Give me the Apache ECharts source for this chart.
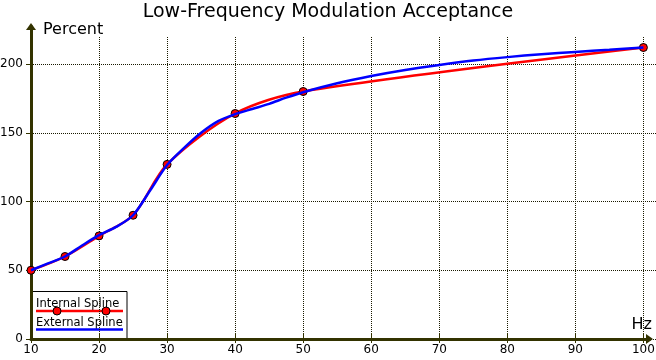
<!DOCTYPE html>
<html>
<head>
<meta charset="utf-8">
<script src="https://cdn.jsdelivr.net/npm/echarts@6/dist/echarts.min.js"></script>
<style>
html,body{margin:0;padding:0;background:#ffffff;}
#chart{width:656px;height:360px;}
</style>
</head>
<body>
<div id="chart"></div>
<script>
// ---- data ----
const titleText = 'Low-Frequency Modulation Acceptance';
const seriesNames = ['Internal Spline', 'External Spline'];
const xAxisName = 'Hz';
const yAxisName = 'Percent';
// control points (marked on the internal spline)
const hz = [10, 15, 20, 25, 30, 40, 50, 100];
const percent = [50, 60, 75, 90, 127, 164, 180, 212];
// external spline
const externalHz = [10, 12.5, 15, 17.5, 20, 22.5, 25, 27.5, 30, 32.5, 35, 37.5, 40, 42.5, 45, 47.5, 50, 55, 60, 65, 70, 75, 80, 85, 90, 95, 100];
const externalPercent = [50, 55, 60, 68, 75.5, 81.5, 90, 108, 126.5, 139, 150, 158.5, 163.5, 167.3, 171, 175.5, 179.5, 186, 191.3, 195.7, 199.3, 202.5, 205, 207.1, 208.8, 210.4, 212];
const xTicks = [10, 20, 30, 40, 50, 60, 70, 80, 90, 100];
const yTicks = [0, 50, 100, 150, 200];

const FONT = 'DejaVu Sans';
const axisColor = '#333300';
const gridColor = '#1a1a00';

const internalData = hz.map((x, i) => [x, percent[i]]);
const externalData = externalHz.map((x, i) => [x, externalPercent[i]]);

const chart = echarts.init(document.getElementById('chart'), null, {renderer: 'canvas'});

const option = {
  animation: false,
  backgroundColor: '#ffffff',
  title: {
    text: titleText,
    left: 'center',
    top: 3,
    padding: 0,
    textStyle: {fontFamily: FONT, fontSize: 19, fontWeight: 'normal', color: '#000000'}
  },
  grid: [
    {left: 31, right: -1, top: 64, bottom: 21, containLabel: false, outerBoundsMode: 'none'},
    {left: 31, right: -1, top: 37, bottom: 21, containLabel: false, outerBoundsMode: 'none'},
    {left: 31, right: 6.5, top: 26.5, bottom: 21, containLabel: false, outerBoundsMode: 'none'}
  ],
  xAxis: [
    {
      type: 'value', gridIndex: 0, min: 10, max: 102, interval: 10,
      axisLine: {show: false},
      axisTick: {show: true, inside: false, length: 4, lineStyle: {color: axisColor, width: 1}},
      axisLabel: {
        show: true, margin: 5, color: '#000000', fontFamily: FONT, fontSize: 12,
        showMaxLabel: false,
        formatter: v => (xTicks.indexOf(v) >= 0 ? String(v) : '')
      },
      splitLine: {show: false}
    },
    {
      type: 'value', gridIndex: 1, min: 10, max: 102, interval: 10,
      axisLine: {show: false},
      axisTick: {show: true, inside: true, length: 6, lineStyle: {color: axisColor, width: 1}},
      axisLabel: {show: false},
      splitLine: {show: true, lineStyle: {color: gridColor, width: 1, type: [1, 1]}}
    },
    {
      type: 'value', gridIndex: 2, min: 0, max: 1,
      axisLine: {show: true, symbol: ['none', 'triangle'], symbolSize: [10, 7], lineStyle: {color: axisColor, width: 3}},
      axisTick: {show: false},
      axisLabel: {show: false},
      splitLine: {show: false}
    }
  ],
  yAxis: [
    {
      type: 'value', gridIndex: 0, min: 0, max: 200, interval: 50,
      axisLine: {show: false},
      axisTick: {show: true, inside: false, length: 5, lineStyle: {color: axisColor, width: 1}},
      axisLabel: {
        show: true, margin: 8, color: '#000000', fontFamily: FONT, fontSize: 12,
        formatter: v => (yTicks.indexOf(v) >= 0 ? String(v) : '')
      },
      splitLine: {show: true, lineStyle: {color: gridColor, width: 1, type: [1, 1]}}
    },
    {
      type: 'value', gridIndex: 1, min: 0, max: 220, show: false
    },
    {
      type: 'value', gridIndex: 2, min: 0, max: 1,
      axisLine: {show: true, symbol: ['none', 'triangle'], symbolSize: [10, 7], lineStyle: {color: axisColor, width: 3}},
      axisTick: {show: false},
      axisLabel: {show: false},
      splitLine: {show: false},
      name: yAxisName,
      nameLocation: 'end',
      nameGap: -3,
      nameTextStyle: {fontFamily: FONT, fontSize: 16, color: '#000000', align: 'left', verticalAlign: 'middle', padding: [0, 0, 0, 12]}
    }
  ],
  series: [
    {
      name: seriesNames[0],
      type: 'line',
      xAxisIndex: 0, yAxisIndex: 0,
      data: internalData,
      smooth: 0.3,
      clip: false,
      showSymbol: true,
      showAllSymbol: true,
      symbol: 'circle',
      symbolSize: 8,
      itemStyle: {color: '#ff0000', borderColor: '#000000', borderWidth: 1},
      lineStyle: {color: '#ff0000', width: 2.5},
      z: 3
    },
    {
      name: seriesNames[1],
      type: 'line',
      xAxisIndex: 0, yAxisIndex: 0,
      data: externalData,
      smooth: 0.3,
      clip: false,
      showSymbol: false,
      symbol: 'none',
      lineStyle: {color: '#0000ff', width: 2.5},
      z: 4
    }
  ],
  graphic: [
    {
      type: 'text', z: 100, x: 652, y: 325,
      style: {text: xAxisName, fontFamily: FONT, fontSize: 16, fill: '#000000', align: 'right', verticalAlign: 'middle'}
    },
    {
      type: 'group', z: 100,
      children: [
        {type: 'rect', shape: {x: 31.5, y: 291.5, width: 95.5, height: 47}, style: {fill: '#ffffff', stroke: '#000000', lineWidth: 1}},
        {type: 'text', x: 36, y: 304, style: {text: seriesNames[0], fontFamily: FONT, fontSize: 11.5, fill: '#000000', verticalAlign: 'middle', align: 'left'}},
        {type: 'line', shape: {x1: 36, y1: 311, x2: 123, y2: 311}, style: {stroke: '#ff0000', lineWidth: 2.5}},
        {type: 'circle', shape: {cx: 57, cy: 311, r: 4}, style: {fill: '#ff0000', stroke: '#000000', lineWidth: 1}},
        {type: 'circle', shape: {cx: 106, cy: 311, r: 4}, style: {fill: '#ff0000', stroke: '#000000', lineWidth: 1}},
        {type: 'text', x: 36, y: 323, style: {text: seriesNames[1], fontFamily: FONT, fontSize: 11.5, fill: '#000000', verticalAlign: 'middle', align: 'left'}},
        {type: 'line', shape: {x1: 36, y1: 329.5, x2: 123, y2: 329.5}, style: {stroke: '#0000ff', lineWidth: 2.5}}
      ]
    }
  ]
};
chart.setOption(option);
</script>
</body>
</html>
